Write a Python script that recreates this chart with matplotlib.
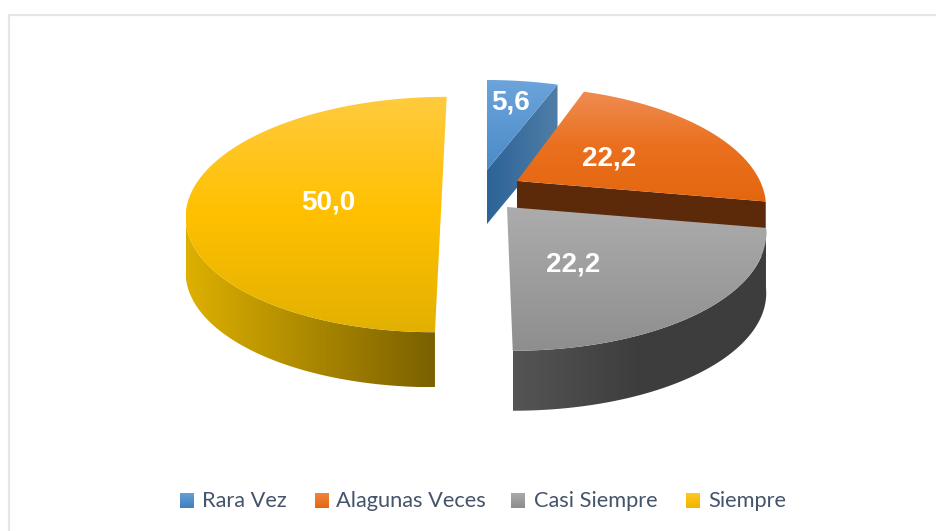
import numpy as np
import matplotlib
matplotlib.use("Agg")
import matplotlib.pyplot as plt
from matplotlib.colors import LinearSegmentedColormap
from matplotlib.patches import Polygon

# Data
categories = ["Rara Vez", "Alagunas Veces", "Casi Siempre", "Siempre"]
values = [5.6, 22.2, 22.2, 50.0]
value_labels = ["5,6", "22,2", "22,2", "50,0"]

# Layout of the exploded slices in pixels (apex x, apex y, radius x, radius y, skew, depth)
slice_layout = [
    (487, 170, 243, 108, 0.0, 54),
    (517, 181, 243, 113, 0.04, 55),
    (507, 207, 253, 115, 0.04, 60),
    (442, 191, 250, 113, -0.05, 55),
]
perspective = 0.2

# Colours: top face (top to bottom), side (left to right)
top_colors = [
    ("#6CA4DB", "#4A8BC8"),
    ("#EF8C52", "#EA701F", "#E4670F"),
    ("#ACACAC", "#8E8E8E"),
    ("#FFCB3E", "#FFC000", "#E2B100"),
]
side_colors = [
    ("#2D6397", "#4F7EA8"),
    ("#5C2A0A", "#5C2A0A"),
    ("#555555", "#3D3D3D", "#3D3D3D"),
    ("#DDB000", "#7A6000"),
]
legend_colors = [("#64A0D8", "#3F7FBA"), ("#F08440", "#E4670F"), ("#AAAAAA", "#8C8C8C"), ("#FFC91E", "#F0B400")]

label_pos = [(510, 102), (609, 158), (573, 265), (328, 202)]
legend_swatch_x = [180, 315, 511, 686]
legend_text_x = [202, 336, 534, 708]
legend_y = 501


def project(theta, layout):
    """Clockwise angle from 12 o'clock -> pixel position, with some perspective"""
    ax0, ay0, rx, ry, skew, depth = layout
    t = np.radians(theta)
    u = np.sin(t)
    v = np.cos(t)
    w = 1 / (1 + perspective * v)
    dx = rx * u * w
    dy = -ry * v * w
    return np.column_stack((ax0 + dx + skew * dy, ay0 + dy))


def gradient_fill(ax, verts, colors, horizontal=False):
    verts = np.asarray(verts)
    cmap = LinearSegmentedColormap.from_list("g", colors)
    ramp = np.linspace(0, 1, 256)
    img = ramp.reshape(1, -1) if horizontal else ramp.reshape(-1, 1)
    xmin, ymin = verts.min(axis=0)
    xmax, ymax = verts.max(axis=0)
    im = ax.imshow(img, cmap=cmap, extent=(xmin, xmax, ymax, ymin), aspect="auto",
                   origin="upper", interpolation="bilinear")
    clip = Polygon(verts, closed=True, transform=ax.transData)
    im.set_clip_path(clip)
    return im


fig = plt.figure(figsize=(9.36, 5.31), dpi=100)
ax = fig.add_axes([0, 0, 1, 1])

# Chart frame, only top and left are inside the picture
ax.plot([9, 9, 936], [531, 15, 15], color="#E3E6EA", lw=1.6, solid_joinstyle="miter")

# Slice angles from the values
edges = np.concatenate(([0], np.cumsum(values))) / np.sum(values) * 360

for i, layout in enumerate(slice_layout):
    start, end = edges[i], edges[i + 1]
    depth = layout[5]
    apex = np.array([[layout[0], layout[1]]])
    rim = project(np.linspace(start, end, 200), layout)
    drop = np.array([0, depth])

    # side walls first, the top face goes over them
    if i < 2:
        # only the cut at the end of the slice can be seen
        cut = np.vstack((apex, rim[-1:], rim[-1:] + drop, apex + drop))
        gradient_fill(ax, cut, side_colors[i], horizontal=True)
    else:
        # yellow wall stops at its widest point, otherwise it pokes out at the top
        near = rim[:np.argmin(rim[:, 0]) + 1] if i == 3 else rim
        wall = np.vstack((near, near[::-1] + drop))
        gradient_fill(ax, wall, side_colors[i], horizontal=True)

    face = np.vstack((apex, rim))
    gradient_fill(ax, face, top_colors[i])

# Data labels
for (x, y), txt in zip(label_pos, value_labels):
    ax.text(x, y, txt, color="white", fontsize=20, fontweight="bold",
            family="Liberation Sans", ha="center", va="center")

# Legend
for i, name in enumerate(categories):
    sx = legend_swatch_x[i]
    swatch = [(sx, legend_y - 8), (sx + 14, legend_y - 8), (sx + 14, legend_y + 7), (sx, legend_y + 7)]
    gradient_fill(ax, swatch, legend_colors[i])
    ax.text(legend_text_x[i], legend_y, name, color="#44546A", fontsize=15.7,
            family="Lato", ha="left", va="center")

ax.set_xlim(0, 936)
ax.set_ylim(531, 0)
ax.axis("off")

fig.savefig("out.png", dpi=100, facecolor="white")
